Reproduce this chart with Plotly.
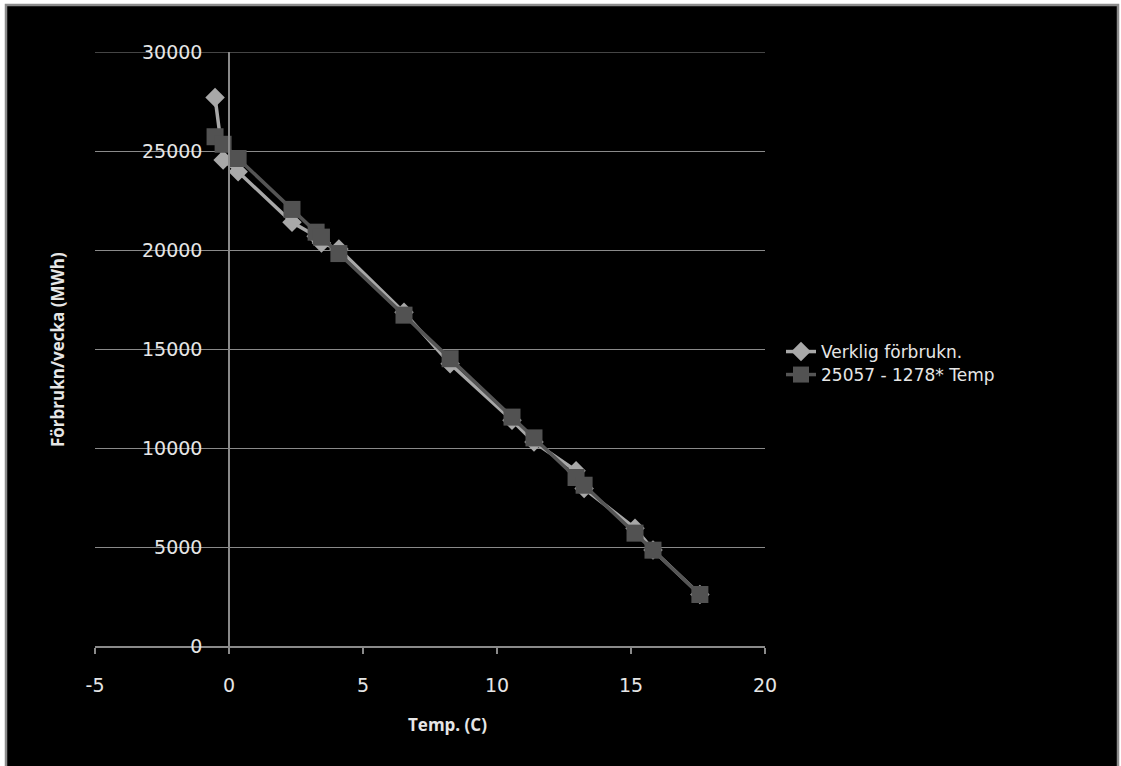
import plotly.graph_objects as go

# Temperatures (C)
temp = [-0.52, -0.22, 0.34, 2.35, 3.25, 3.45, 4.1, 6.53, 8.25, 10.56, 11.38, 12.95, 13.25, 15.15, 15.82, 17.57]
# Actual weekly consumption (MWh)
verklig = [27700, 24550, 23950, 21400, 20700, 20350, 20050, 16850, 14250, 11400, 10300, 8850, 7950, 5950, 4850, 2600]
# Model values 25057 - 1278*Temp (MWh)
modell = [25720, 25340, 24620, 22050, 20900, 20650, 19820, 16710, 14510, 11560, 10510, 8510, 8120, 5700, 4840, 2600]

name1 = "Verklig förbrukn."
name2 = "25057 - 1278* Temp"
x_ticks = [-5, 0, 5, 10, 15, 20]
x_labels = ["-5", "0", "5", "10", "15", "20"]
y_ticks = [0, 5000, 10000, 15000, 20000, 25000, 30000]
y_labels = ["0", "5000", "10000", "15000", "20000", "25000", "30000"]

W, H = 1121, 766
L, R, T, B = 95, 765, 52, 646
pw, ph = R - L, B - T

def px(xp):
    return (xp - L) / pw

def py(yp):
    return (B - yp) / ph

font_main = "'DejaVu Sans', sans-serif"
font_title = "'Open Sans', Lato, sans-serif"
txt_col = "#e6e6e6"
grid_col = "#8a8a8a"

fig = go.Figure()
fig.add_trace(go.Scatter(
    x=temp, y=verklig, name=name1, mode="lines+markers", legend="legend",
    line=dict(color="#a8a8a8", width=3.5),
    marker=dict(symbol="diamond", size=15, color="#a8a8a8"),
))
fig.add_trace(go.Scatter(
    x=temp, y=modell, name=name2, mode="lines+markers", legend="legend2",
    line=dict(color="#555555", width=3.5),
    marker=dict(symbol="square", size=17, color="#525252"),
))

leg_common = dict(xanchor="left", yanchor="middle", bgcolor="rgba(0,0,0,0)",
                  font=dict(family=font_main, size=17, color=txt_col))

fig.update_layout(
    width=W, height=H,
    margin=dict(l=L, r=W - R, t=T, b=H - B, pad=0),
    paper_bgcolor="white",
    plot_bgcolor="rgba(0,0,0,0)",
    showlegend=True,
    legend=dict(x=px(781), y=py(352), **leg_common),
    legend2=dict(x=px(781), y=py(375), **leg_common),
    xaxis=dict(
        range=[-5, 20], tickvals=x_ticks, ticktext=x_labels, showgrid=False, zeroline=False,
        showline=True, linecolor=grid_col, linewidth=1.5, automargin=False,
        ticks="outside", ticklen=6, tickcolor=grid_col, tickwidth=1.5,
        ticklabelstandoff=15,
        tickfont=dict(family=font_main, size=19, color=txt_col),
    ),
    yaxis=dict(
        range=[0, 30000], tickvals=y_ticks, ticktext=y_labels, anchor="free", position=px(229),
        showgrid=True, gridcolor=grid_col, gridwidth=1, zeroline=False,
        showline=True, linecolor=grid_col, linewidth=1.5, automargin=False,
        ticks="", ticklabelstandoff=22,
        tickfont=dict(family=font_main, size=19, color=txt_col),
    ),
    shapes=[
        dict(type="rect", xref="paper", yref="paper", layer="below",
             x0=px(6), x1=px(1118), y0=py(770), y1=py(5),
             fillcolor="black", line=dict(color="#8c8c8c", width=2.5)),
        dict(type="line", xref="paper", yref="y", layer="below",
             x0=0, x1=1, y0=y_ticks[-1], y1=y_ticks[-1],
             line=dict(color=grid_col, width=1)),
    ],
    annotations=[
        dict(text="<b>Temp. (C)</b>", xref="paper", yref="paper",
             x=px(447), y=py(724), xanchor="center", yanchor="middle", showarrow=False,
             font=dict(family=font_title, size=17, color=txt_col)),
        dict(text="<b>Förbrukn/vecka (MWh)</b>", xref="paper", yref="paper",
             x=px(57), y=py(350), xanchor="center", yanchor="middle", showarrow=False, textangle=-90,
             font=dict(family=font_title, size=17, color=txt_col)),
    ],
)

fig.write_html(
    "out.html",
    config={"displayModeBar": False},
    post_script="document.body.style.margin='0';document.body.style.overflow='hidden';",
)
